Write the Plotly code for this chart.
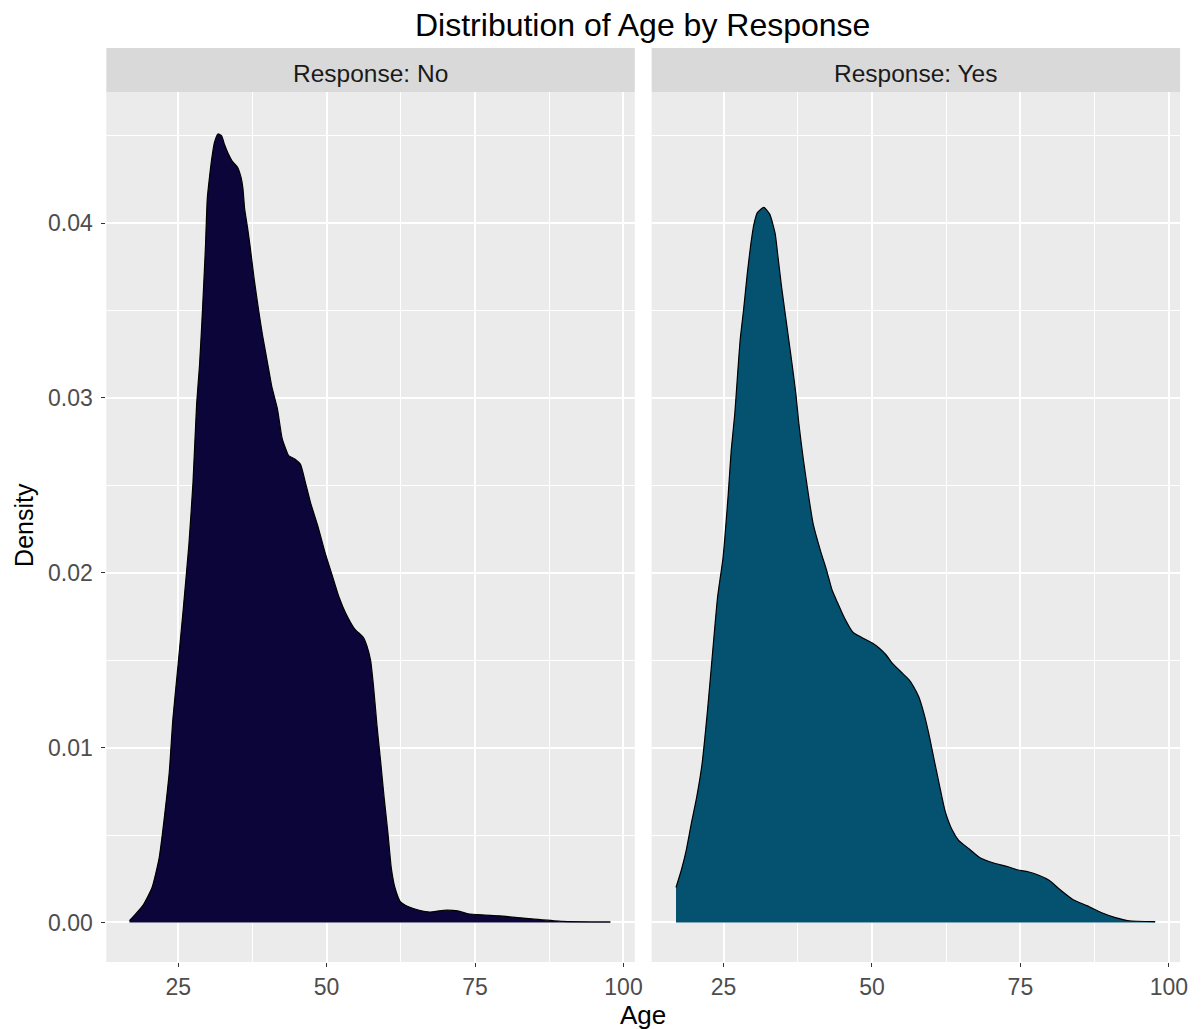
import plotly.graph_objects as go

# --- données ---
age_no = [16.8, 19.1, 20.6, 21.8, 22.6, 23.5, 24.1, 25.0, 25.9, 26.8, 27.5, 28.1, 28.6, 29.0, 29.3,
          29.6, 29.9, 30.3, 30.7, 31.1, 31.7, 32.3, 32.8, 33.4, 34.2, 35.0, 35.6, 35.9, 36.2, 36.7,
          37.1, 37.8, 38.6, 39.2, 40.0, 40.8, 41.7, 42.5, 43.1, 43.6, 44.7, 45.6, 46.4, 47.3, 48.5,
          49.7, 50.9, 52.1, 53.2, 54.7, 56.2, 56.8, 57.4, 57.9, 58.5, 59.1, 59.7, 60.3, 60.9, 61.5,
          62.4, 63.8, 65.6, 67.4, 69.7, 72.1, 73.8, 76.2, 79.1, 82.1, 85.0, 89.7, 97.8]
dens_no = [0.0001, 0.0010, 0.0020, 0.0037, 0.0058, 0.0086, 0.0116, 0.0148, 0.0181, 0.0216, 0.0252,
           0.0296, 0.0319, 0.0344, 0.0365, 0.0387, 0.0414, 0.0427, 0.0438, 0.0446, 0.0451, 0.0450,
           0.0445, 0.0440, 0.0435, 0.0432, 0.0426, 0.0420, 0.0408, 0.0397, 0.0387, 0.0368, 0.0349,
           0.0336, 0.0321, 0.0306, 0.0294, 0.0277, 0.0271, 0.0267, 0.0265, 0.0262, 0.0252, 0.0240,
           0.0227, 0.0212, 0.0199, 0.0186, 0.0177, 0.0168, 0.0163, 0.0158, 0.0150, 0.0135, 0.0112,
           0.0092, 0.0071, 0.0052, 0.0031, 0.0020, 0.0012, 0.0009, 0.0007, 0.0006, 0.0007, 0.00066,
           0.0005, 0.00043, 0.00038, 0.00028, 0.00019, 0.00006, 0.00003]

age_yes = [17.0, 17.9, 18.7, 19.6, 20.5, 21.4, 22.3, 23.1, 24.0, 24.9, 25.2, 25.8, 26.3, 26.9, 27.3,
           27.8, 28.4, 29.0, 29.6, 30.1, 30.7, 31.8, 32.8, 33.7, 34.2, 34.8, 35.4, 36.0, 36.6, 37.2,
           37.7, 38.4, 39.2, 40.1, 41.3, 42.4, 43.3, 44.2, 45.4, 46.8, 48.3, 50.0, 51.2, 52.4, 53.5,
           55.0, 56.2, 57.0, 57.9, 58.8, 59.7, 60.6, 61.4, 62.3, 63.5, 64.6, 66.4, 68.2, 70.5, 72.8,
           74.6, 76.3, 78.1, 79.9, 81.6, 83.9, 86.3, 88.6, 91.0, 93.3, 97.7]
dens_yes = [0.0020, 0.0030, 0.0041, 0.0057, 0.0072, 0.0091, 0.0121, 0.0152, 0.0186, 0.0208, 0.0219,
            0.0245, 0.0270, 0.0291, 0.0310, 0.0333, 0.0351, 0.0371, 0.0388, 0.0399, 0.0406, 0.0409,
            0.0405, 0.0394, 0.0380, 0.0363, 0.0348, 0.0333, 0.0318, 0.0302, 0.0285, 0.0266, 0.0247,
            0.0228, 0.0213, 0.0201, 0.0190, 0.0183, 0.0174, 0.0166, 0.0163, 0.0160, 0.0157, 0.0153,
            0.0148, 0.0143, 0.0139, 0.0135, 0.0129, 0.0119, 0.0106, 0.0091, 0.0078, 0.0064, 0.0053,
            0.0047, 0.0042, 0.0037, 0.0034, 0.0032, 0.0030, 0.0029, 0.0027, 0.0024, 0.0019, 0.0013,
            0.00095, 0.00057, 0.00028, 0.0001, 0.00005]

x_ticks = [25, 50, 75, 100]
x_minor = [37.5, 62.5, 87.5]
y_ticks = [0.0, 0.01, 0.02, 0.03, 0.04]
y_tick_text = ["0.00", "0.01", "0.02", "0.03", "0.04"]
y_minor = [0.005, 0.015, 0.025, 0.035, 0.045]
panels = ["Response: No", "Response: Yes"]

# la page ajoute une marge de 8px autour de la figure
OFF = 8
W, H = 1203 - OFF, 1029 - OFF
FONT = "Liberation Sans, Arial, sans-serif"


def px(x):
    return (x - OFF) / W


def py(y):
    return 1 - (y - OFF) / H


# positions des panneaux (pixels de la référence -> papier)
dom_left = [px(107), px(639)]
dom_right = [px(656), px(1188)]
dom_y = [py(962), py(92)]
strip_top = py(48)

fig = go.Figure()

fig.add_trace(go.Scatter(
    x=age_no, y=dens_no, mode="lines", fill="tozeroy",
    line=dict(color="black", width=1.2, shape="spline", smoothing=0.5), fillcolor="#0b0539",
    xaxis="x", yaxis="y", showlegend=False, hoverinfo="skip"
))
fig.add_trace(go.Scatter(
    x=age_yes, y=dens_yes, mode="lines", fill="tozeroy",
    line=dict(color="black", width=1.2, shape="spline", smoothing=0.5), fillcolor="#055170",
    xaxis="x2", yaxis="y2", showlegend=False, hoverinfo="skip"
))

xax = dict(
    range=[12.9, 101.9], tickmode="array", tickvals=x_ticks,
    showgrid=True, gridcolor="white", gridwidth=1.8,
    minor=dict(tickmode="array", tickvals=x_minor, showgrid=True,
               gridcolor="white", gridwidth=0.9, ticks=""),
    ticks="outside", ticklen=4, tickwidth=1, tickcolor="#333333",
    tickfont=dict(family=FONT, size=23, color="#4d4d4d"),
    zeroline=False, showline=False, fixedrange=True,
)
yax = dict(
    range=[-0.00226, 0.0475], tickmode="array", tickvals=y_ticks, ticktext=y_tick_text,
    showgrid=True, gridcolor="white", gridwidth=1.8,
    minor=dict(tickmode="array", tickvals=y_minor, showgrid=True,
               gridcolor="white", gridwidth=0.9, ticks=""),
    ticks="outside", ticklen=4, tickwidth=1, tickcolor="#333333",
    tickfont=dict(family=FONT, size=23, color="#4d4d4d"),
    zeroline=False, showline=False, domain=dom_y, fixedrange=True,
)

fig.update_layout(
    width=W, height=H,
    margin=dict(l=0, r=0, t=0, b=0),
    paper_bgcolor="white", plot_bgcolor="#ebebeb",
    xaxis=dict(xax, domain=dom_left, anchor="y"),
    xaxis2=dict(xax, domain=dom_right, anchor="y2"),
    yaxis=dict(yax, anchor="x", ticklabelstandoff=4),
    yaxis2=dict(yax, anchor="x2", matches="y", showticklabels=False, ticks=""),
)

# bandeaux de facettes
for dom, label in zip([dom_left, dom_right], panels):
    fig.add_shape(type="rect", xref="paper", yref="paper",
                  x0=dom[0], x1=dom[1], y0=dom_y[1], y1=strip_top,
                  fillcolor="#d9d9d9", line=dict(width=0), layer="below")
    fig.add_annotation(x=(dom[0] + dom[1]) / 2, y=py(73), xref="paper", yref="paper",
                       xanchor="center", yanchor="middle", text=label, showarrow=False,
                       font=dict(family=FONT, size=24.5, color="#1a1a1a"))

# titres
fig.add_annotation(x=px(647), y=py(25), xref="paper", yref="paper",
                   xanchor="center", yanchor="middle",
                   text="Distribution of Age by Response", showarrow=False,
                   font=dict(family=FONT, size=32, color="black"))
fig.add_annotation(x=px(647), y=py(1015), xref="paper", yref="paper",
                   xanchor="center", yanchor="middle",
                   text="Age", showarrow=False,
                   font=dict(family=FONT, size=26, color="black"))
fig.add_annotation(x=px(24), y=py(525), xref="paper", yref="paper",
                   xanchor="center", yanchor="middle",
                   text="Density", showarrow=False, textangle=-90,
                   font=dict(family=FONT, size=25, color="black"))

fig.write_html("out.html")
